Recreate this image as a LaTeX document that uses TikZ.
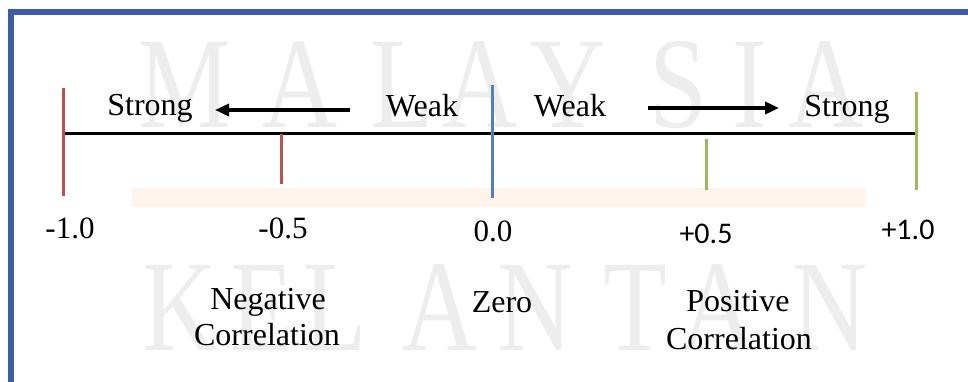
\documentclass[tikz,border=0pt]{standalone}
\usepackage{fontspec}
\setmainfont{Liberation Serif}
\newfontfamily\numsans{Carlito}
\usetikzlibrary{arrows.meta}
\definecolor{frameblue}{HTML}{3A5EA6}
\definecolor{tickred}{HTML}{C0504D}
\definecolor{tickblue}{HTML}{4F81BD}
\definecolor{tickgreen}{HTML}{9BBB59}
\definecolor{bandcol}{HTML}{FEF4EC}
\definecolor{wmcol}{HTML}{EDEDED}
\begin{document}
\begin{tikzpicture}[x=1pt,y=-1pt,
  lbl/.style={font=\fontsize{32}{36}\selectfont, inner sep=0pt, anchor=base},
  numlbl/.style={font=\fontsize{31}{36}\selectfont, inner sep=0pt, anchor=base},
  snum/.style={font=\numsans\fontsize{30}{36}\selectfont, inner sep=0pt, anchor=base},
  wmark/.style={font=\fontsize{130}{130}\selectfont, text=wmcol, inner sep=0pt, anchor=base, xscale=0.8},
  tickline/.style={line width=3pt},
  axisline/.style={line width=3pt, black},
  dirarrow/.style={line width=3.5pt, -{Triangle[length=14pt,width=12pt]}}]
\useasboundingbox (0,0) rectangle (968,382);
\fill[white] (0,0) rectangle (968,382);
% watermark
\foreach \ch/\xx [count=\i] in {M/185,A/300,L/402,A/480,Y/568,S/678,I/750,A/826}
  \node[wmark] (wa\i) at (\xx,128) {\ch};
\foreach \ch/\xx [count=\i] in {K/180,E/262,L/335,A/440,N/535,T/635,A/718,N/830}
  \node[wmark] (wb\i) at (\xx,350) {\ch};
% faint band
\fill[bandcol] (132,188) rectangle (866,207);
% frame
\draw[frameblue, line width=6pt] (11,382) -- (11,12.5) -- (968,12.5);
% axis coordinates
\coordinate (axL) at (63,134);
\coordinate (axR) at (916,134);
\draw[axisline] (axL) -- (axR);
% ticks
\coordinate (t1a) at (63,88);   \coordinate (t1b) at (63,196);
\coordinate (t2a) at (281,134); \coordinate (t2b) at (281,184);
\coordinate (t3a) at (492,85);  \coordinate (t3b) at (492,198);
\coordinate (t4a) at (706,139); \coordinate (t4b) at (706,190);
\coordinate (t5a) at (916,92);  \coordinate (t5b) at (916,190);
\draw[tickline, tickred] (t1a) -- (t1b);
\draw[tickline, tickred] (t2a) -- (t2b);
\draw[tickline, tickblue] (t3a) -- (t3b);
\draw[tickline, tickgreen] (t4a) -- (t4b);
\draw[tickline, tickgreen] (t5a) -- (t5b);
% top labels
\node[lbl] (strongL) at (150,116) {Strong};
\node[lbl] (weakL) at (422,117) {Weak};
\node[lbl] (weakR) at (570,117) {Weak};
\node[lbl] (strongR) at (847,117) {Strong};
\coordinate (arLs) at (350,110);
\coordinate (arLe) at (215,110);
\coordinate (arRs) at (648,108);
\coordinate (arRe) at (779,108);
\draw[dirarrow] (arLs) -- (arLe);
\draw[dirarrow] (arRs) -- (arRe);
% numbers
\node[numlbl] (n1) at (70,238.5) {-1.0};
\node[numlbl] (n2) at (283,238.5) {-0.5};
\node[numlbl] (n3) at (493,241.5) {0.0};
\node[snum] (n4) at (706,243.5) {+0.5};
\node[snum] (n5) at (908,239.5) {+1.0};
% bottom labels
\node[lbl] (neg1) at (268,309) {Negative};
\node[lbl] (neg2) at (267,345) {Correlation};
\node[lbl] (zero) at (502,312) {Zero};
\node[lbl] (pos1) at (738,311) {Positive};
\node[lbl] (pos2) at (739,349) {Correlation};
\end{tikzpicture}
\end{document}
